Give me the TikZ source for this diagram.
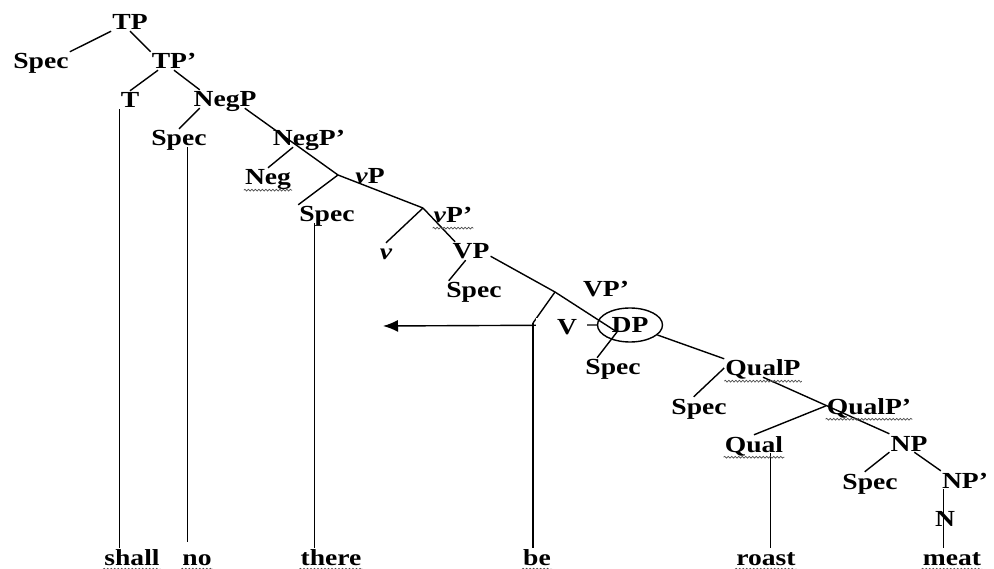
\documentclass[tikz,border=0pt]{standalone}
\usepackage{fontspec}
\setmainfont{Liberation Serif}[FakeStretch=1.2]
\usetikzlibrary{arrows.meta,shapes.geometric,decorations.pathmorphing,calc}

\begin{document}
\begin{tikzpicture}[x=1pt,y=-1pt,>=Latex,
 cat/.style={inner sep=1pt,text height=16pt,text depth=0pt,font=\fontsize{23}{27}\selectfont\bfseries},
 branch/.style={draw=black,line width=1.4pt},
 spell/.style={draw=black!70,line width=0.7pt,decorate,decoration={snake,amplitude=0.9pt,segment length=3.5pt}}]
\useasboundingbox (0,0) rectangle (994,569);
\node[cat] (TP) at (130,22) {TP};
\node[cat] (specT) at (41,61) {Spec};
\node[cat] (TPbar) at (174,61) {TP’};
\node[cat] (T) at (130,100) {T};
\node[cat] (NegP) at (225,99) {NegP};
\node[cat] (specNeg) at (179,138) {Spec};
\node[cat] (NegPbar) at (309,138) {NegP’};
\node[cat] (Neg) at (268,177) {Neg};
\node[cat] (vP) at (370,176) {\textit{v}P};
\node[cat] (specv) at (327,214) {Spec};
\node[cat] (vPbar) at (453,215) {\textit{v}P’};
\node[cat] (vhead) at (386,252) {\textit{v}};
\node[cat] (VP) at (471,251) {VP};
\node[cat] (specV) at (474,290) {Spec};
\node[cat] (VPbar) at (606,289) {VP’};
\node[cat,ellipse,draw,line width=1.4pt,minimum width=65pt,minimum height=34pt] (DP) at (630,325) {DP};
\node[cat] (specD) at (613,367) {Spec};
\node[cat] (QualP) at (763,368) {QualP};
\node[cat] (specQual) at (699,406) {Spec};
\node[cat] (QualPbar) at (869,406) {QualP’};
\node[cat] (Qual) at (754,444) {Qual};
\node[cat] (NP) at (909,443) {NP};
\node[cat] (specN) at (870,481) {Spec};
\node[cat] (NPbar) at (965,480) {NP’};
\node[cat] (N) at (945,518) {N};
\node[cat] (shall) at (132,557) {shall};
\node[cat] (no) at (197,557) {no};
\node[cat] (there) at (331,557) {there};
\node[cat] (be) at (537,557) {be};
\node[cat] (roast) at (766,557) {roast};
\node[cat] (meat) at (952,557) {meat};
\coordinate (vPj) at (338,175);
\coordinate (vPbarj) at (423,208);
\coordinate (VPbarj) at (555,292);
\coordinate (Vj) at (533,323);
\coordinate (tip) at (383,326);
\draw[branch] (TP.south west) -- (specT.north east);
\draw[branch] (TP.south) -- (TPbar.north west);
\draw[branch] (TPbar.-150) -- (T.north);
\draw[branch] (TPbar.south) -- (NegP.160);
\draw[branch] (NegP.-160) -- (specNeg.north);
\draw[branch] (NegP.-25) -- (vPj);
\draw[branch] (NegPbar.-150) -- (Neg.north);
\draw[branch] (vPj) -- (specv.north west);
\draw[branch] (vPj) -- (vPbarj);
\draw[branch] (vPbarj) -- (vhead.north);
\draw[branch] (vPbarj) -- (VP.150);
\draw[branch] (VP.-15) -- (VPbarj);
\draw[branch] (VP.-120) -- (specV.160);
\draw[branch] (VPbarj) -- (Vj);
\draw[branch] (VPbarj) -- ($(DP)+(-13,7)$);
\draw[branch] ($(DP)+(-13,7)$) -- (specD.150);
\draw[branch] (DP.-20) -- (QualP.north west);
\draw[branch] (QualP.west) -- (specQual.120);
\draw[branch] (QualP.south) -- (NP.north west);
\draw[branch] (QualPbar.west) -- (Qual.north);
\draw[branch] (NP.south west) -- (specN.120);
\draw[branch] (NP.-60) -- (NPbar.north west);
\draw[branch] (T.south west) -- (T.south west |- shall.north);
\draw[branch,shorten >=6pt] (specNeg.-48) -- (specNeg.-48 |- no.north);
\draw[branch] (specv.-143) -- (specv.-143 |- there.north);
\draw[branch] (Vj) -- (Vj |- be.north);
\draw[branch] (Qual.-29) -- (Qual.-29 |- roast.north);
\draw[branch] (NPbar.-157) -- (NPbar.-157 |- meat.north);
\draw[branch,-{Latex[length=15pt,width=12pt]}] (DP.west) -- (tip);
\node[cat,fill=white,minimum width=51pt] (V) at (561,327) {\hspace*{12pt}V};
\foreach \w in {Neg,vPbar,QualP,QualPbar,Qual}
  \draw[spell] ([yshift=-4pt]\w.south west) -- ([yshift=-4pt]\w.south east);
\foreach \w in {shall,no,there,be,roast,meat}
  \draw[spell] ([yshift=-3pt]\w.south west) -- ([yshift=-3pt]\w.south east);
\end{tikzpicture}
\end{document}
